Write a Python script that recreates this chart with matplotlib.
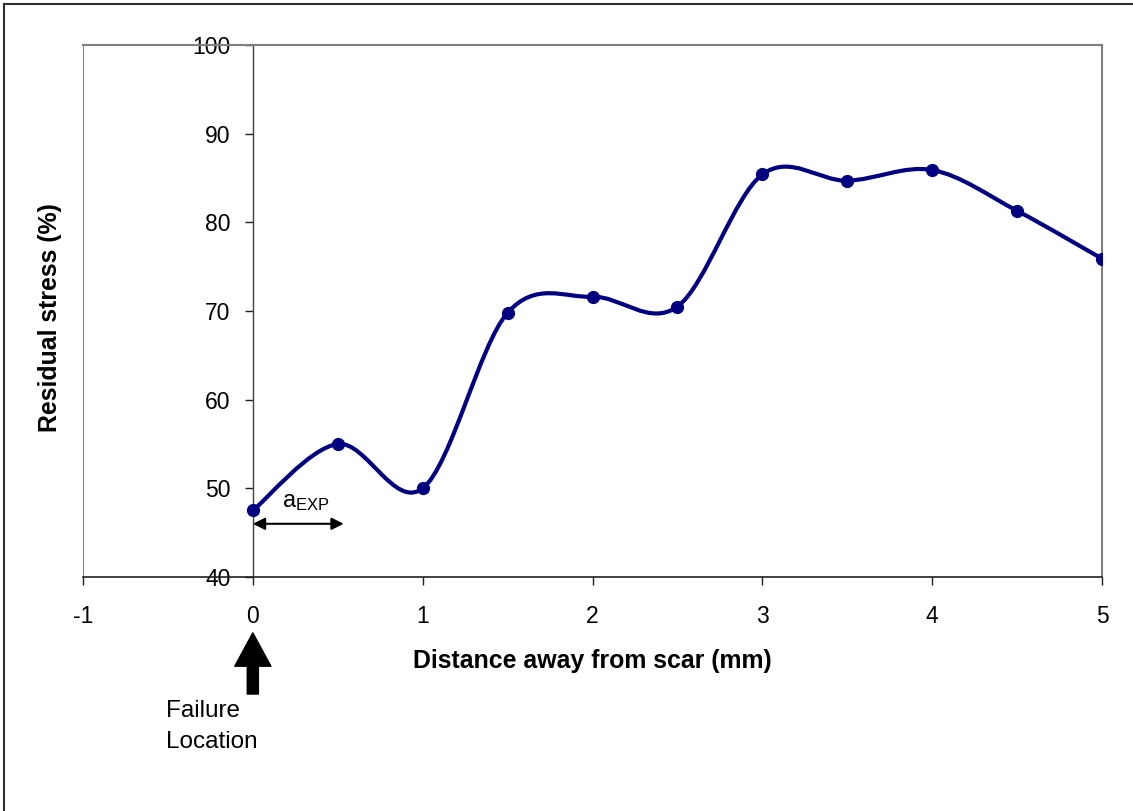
import numpy as np
import matplotlib
matplotlib.use("Agg")
import matplotlib.pyplot as plt
from matplotlib.path import Path
from matplotlib.patches import PathPatch
from matplotlib.lines import Line2D

plt.rcParams['font.family'] = ['Liberation Sans', 'DejaVu Sans']

distance = [0, 0.5, 1, 1.5, 2, 2.5, 3, 3.5, 4, 4.5, 5]
residual = [47.5, 55.0, 50.0, 69.8, 71.6, 70.5, 85.4, 84.7, 85.9, 81.3, 75.9]
x_ticks = [-1, 0, 1, 2, 3, 4, 5]
y_ticks = [40, 50, 60, 70, 80, 90, 100]

W, H = 1133, 811
fig = plt.figure(figsize=(W / 100, H / 100), dpi=100)
ax = fig.add_axes([83 / W, 1 - 577 / H, (1102 - 83) / W, (577 - 45) / H])
ax.set_xlim(-1, 5)
ax.set_ylim(40, 100)

navy = '#000080'

# Excel-style smoothed line (Catmull-Rom Bezier through the data points)
pts = np.column_stack([distance, residual])
verts = [tuple(pts[0])]
codes = [Path.MOVETO]
n = len(pts)
for i in range(n - 1):
    p0 = pts[i - 1] if i > 0 else pts[i]
    p1 = pts[i]
    p2 = pts[i + 1]
    p3 = pts[i + 2] if i + 2 < n else pts[i + 1]
    c1 = p1 + (p2 - p0) / 6.0
    c2 = p2 - (p3 - p1) / 6.0
    verts += [tuple(c1), tuple(c2), tuple(p2)]
    codes += [Path.CURVE4] * 3
ax.add_patch(PathPatch(Path(verts, codes), fill=False, edgecolor=navy, lw=3.0,
                       capstyle='round', joinstyle='round', zorder=3))
ax.plot(distance, residual, linestyle='none', marker='o', markersize=8.5,
        color=navy, zorder=4)

# axes styling
for s in ['top', 'right']:
    ax.spines[s].set_color('#808080')
    ax.spines[s].set_linewidth(1.5)
ax.spines['left'].set_position(('data', 0))
ax.spines['left'].set_color('#404040')
ax.spines['left'].set_linewidth(1.0)
ax.spines['bottom'].set_color('#202020')
ax.spines['bottom'].set_linewidth(1.2)
ax.axvline(-1, color='#808080', lw=1.5, zorder=0)

ax.set_xticks(x_ticks)
ax.set_yticks(y_ticks)
ax.set_xticklabels([str(t) for t in x_ticks])
ax.set_yticklabels([str(t) for t in y_ticks])
ax.tick_params(axis='both', direction='out', length=6, width=1, colors='#202020',
               labelsize=16.5, labelcolor='black')
ax.tick_params(axis='x', pad=14)
ax.tick_params(axis='y', pad=10)

fig.text(592 / W, 1 - 661 / H, 'Distance away from scar (mm)', fontsize=17.9,
         fontweight='bold', ha='center', va='center')
fig.text(50 / W, 1 - 318 / H, 'Residual stress (%)', fontsize=17.9,
         fontweight='bold', ha='center', va='center', rotation=90)

# a_EXP double arrow
ax.annotate('', xy=(0.0, 46.0), xytext=(0.535, 46.0),
            arrowprops=dict(arrowstyle='<|-|>', color='black', lw=1.5,
                            mutation_scale=18, shrinkA=0, shrinkB=0))
ax.text(0.31, 48.5, r'$\mathregular{a_{EXP}}$', fontsize=17, ha='center',
        va='center')

# failure location block arrow
ax.annotate('', xy=(0.0, 33.7), xytext=(0.0, 26.8),
            arrowprops=dict(arrowstyle='simple,head_length=24,head_width=26,tail_width=8',
                            mutation_scale=1, color='black', shrinkA=0, shrinkB=0),
            annotation_clip=False)
fig.text(166 / W, 1 - 711 / H, 'Failure', fontsize=17.5, ha='left', va='center')
fig.text(166 / W, 1 - 742 / H, 'Location', fontsize=17.5, ha='left', va='center')

# outer border
fig.add_artist(Line2D([3.5 / W, 3.5 / W], [0, 1 - 3.5 / H], color='#303030', lw=1.5))
fig.add_artist(Line2D([3.5 / W, 1], [1 - 3.5 / H, 1 - 3.5 / H], color='#303030', lw=1.5))

fig.savefig('out.png', dpi=100)
